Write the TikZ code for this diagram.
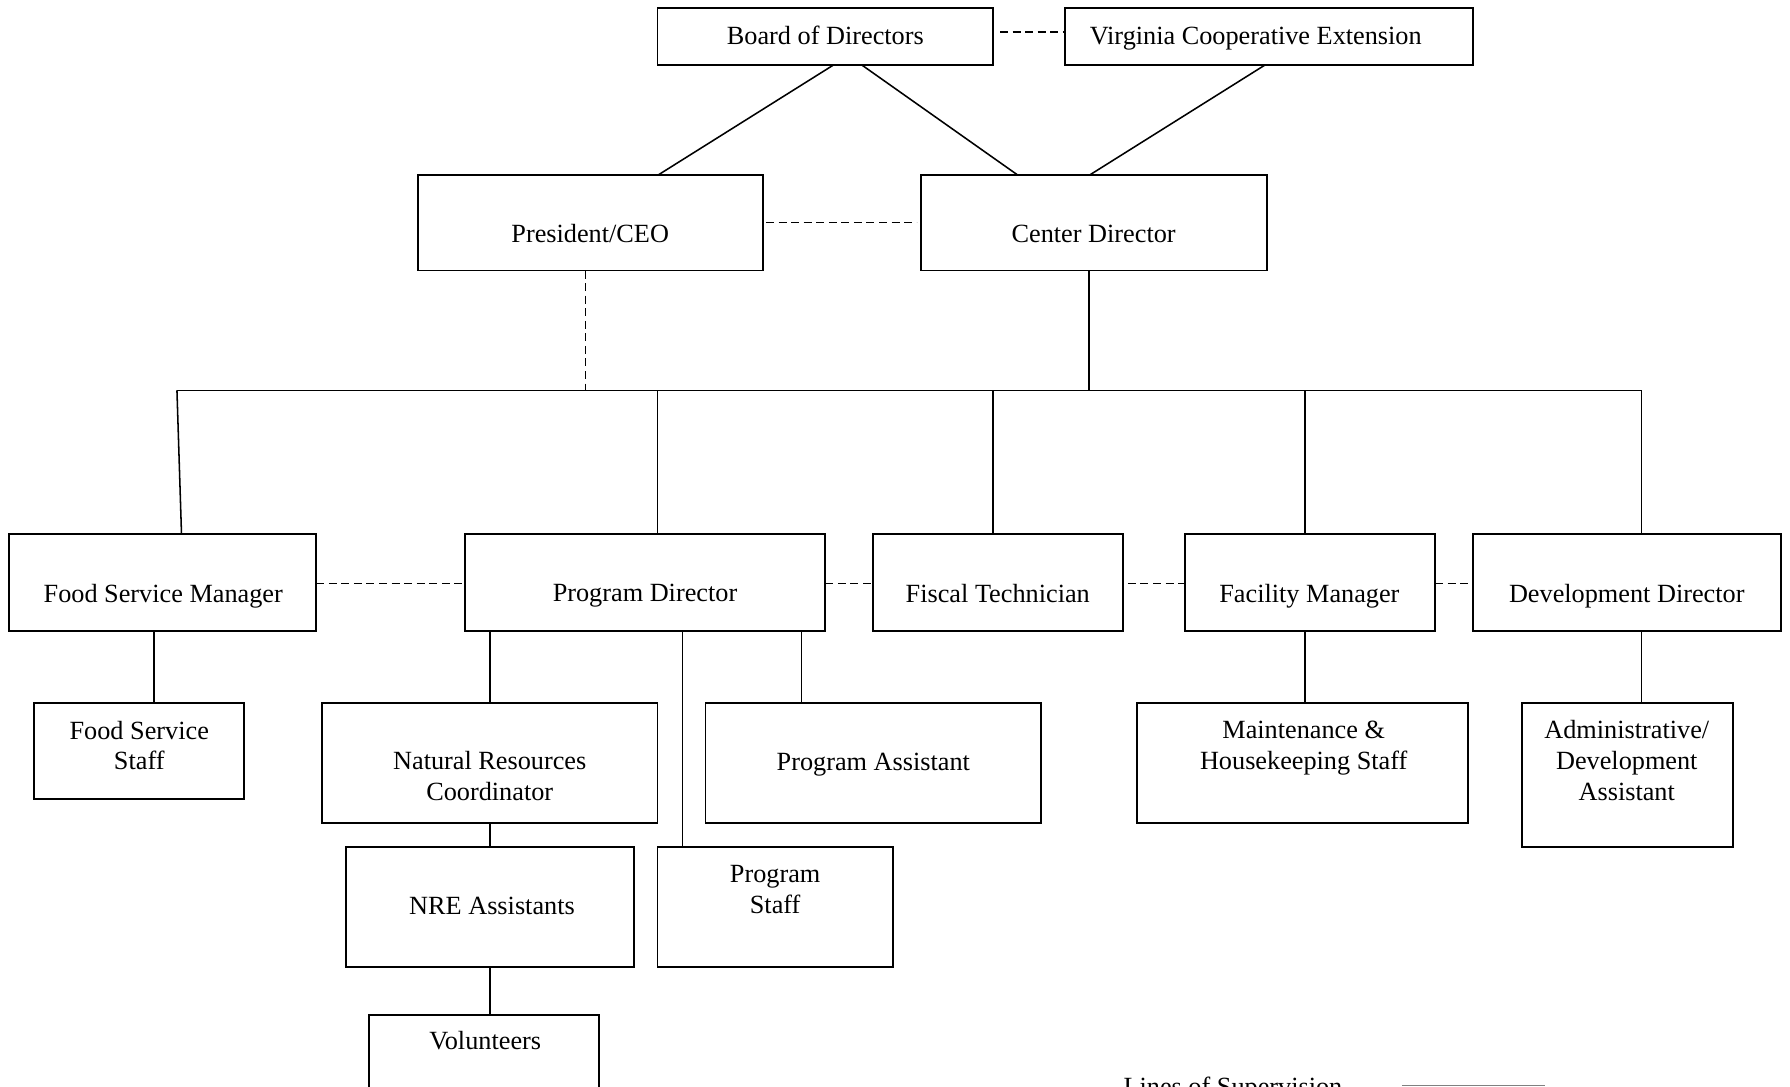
\documentclass[tikz,border=0pt]{standalone}
\usepackage{fontspec}
\setmainfont{Liberation Serif}
\begin{document}
\begin{tikzpicture}[x=1pt,y=-1pt,
  box/.style={draw, line width=1.6pt, inner sep=0pt, outer sep=0pt, anchor=north west},
  lbl/.style={font=\fontsize{23}{27}\selectfont, inner sep=0pt, align=center},
  lbl1/.style={lbl, text height=16pt, text depth=4.6pt},
  con/.style={line width=1.35pt},
  dsh/.style={line width=1.35pt, dash pattern=on 7pt off 4pt},
]
\useasboundingbox (0,0) rectangle (1568,952);
\clip (0,0) rectangle (1568,952);
\fill[white] (0,0) rectangle (1568,952);
% boxes
\node[box, minimum width=294pt, minimum height=50pt] (board) at (576,7) {};
\node[box, minimum width=357pt, minimum height=50pt] (vce) at (933,7) {};
\node[box, minimum width=302pt, minimum height=84pt] (pres) at (366,153) {};
\node[box, minimum width=303pt, minimum height=84pt] (cdir) at (807,153) {};
\node[box, minimum width=269pt, minimum height=85pt] (fsm) at (8,468) {};
\node[box, minimum width=316pt, minimum height=85pt] (pdir) at (407,468) {};
\node[box, minimum width=219pt, minimum height=85pt] (fisc) at (765,468) {};
\node[box, minimum width=219pt, minimum height=85pt] (fac) at (1038,468) {};
\node[box, minimum width=270pt, minimum height=85pt] (dev) at (1290,468) {};
\node[box, minimum width=184pt, minimum height=84pt] (fss) at (30,616) {};
\node[box, minimum width=294pt, minimum height=105pt] (nrc) at (282,616) {};
\node[box, minimum width=294pt, minimum height=105pt] (pa) at (618,616) {};
\node[box, minimum width=206pt, minimum height=105pt] (pst) at (576,742) {};
\node[box, minimum width=252pt, minimum height=105pt] (nre) at (303,742) {};
\node[box, minimum width=202pt, minimum height=95pt] (vol) at (323,889) {};
\node[box, minimum width=290pt, minimum height=105pt] (mhs) at (996,616) {};
\node[box, minimum width=185pt, minimum height=126pt] (ada) at (1333,616) {};
% texts
\node[lbl1] (tboard) at (723,33) {Board of Directors};
\node[lbl1] (tvce) at (1100,33) {Virginia Cooperative Extension};
\node[lbl1] (tpres) at (517,206.5) {President/CEO};
\node[lbl1] (tcdir) at (958,206.5) {Center Director};
\node[lbl1] (tfsm) at (143,522) {Food Service Manager};
\node[lbl1] (tpdir) at (565,521.5) {Program Director};
\node[lbl1] (tfisc) at (874,522) {Fiscal Technician};
\node[lbl1] (tfac) at (1147,522) {Facility Manager};
\node[lbl1] (tdev) at (1425,522) {Development Director};
\node[lbl] (tfss) at (122,653) {Food Service\\Staff};
\node[lbl] (tnrc) at (429,679.5) {Natural Resources\\Coordinator};
\node[lbl1] (tpa) at (765,669) {Program Assistant};
\node[lbl] (tmhs) at (1142,655) {Maintenance \&\\Housekeeping Staff};
\node[lbl] (tada) at (1425,666) {Administrative/\\Development\\Assistant};
\node[lbl1] (tnre) at (431,795) {NRE Assistants};
\node[lbl] (tpst) at (679,779) {Program\\Staff};
\node[lbl1] (tvol) at (425,914) {Volunteers};
\node[lbl, anchor=base west] (tleg) at (984,959.6) {Lines of Supervision};
% bar coordinates
\coordinate (bFsm) at (155,342);
\coordinate (bPres) at (513,342);
\coordinate (bPd) at (576,342);
\coordinate (bFi) at (870,342);
\coordinate (bC) at (954,342);
\coordinate (bFa) at (1143,342);
\coordinate (bDev) at (1438,342);
\coordinate (lg1) at (1228,951);
\coordinate (lg2) at (1353,951);
% top connectors
\draw[con] ([xshift=154pt]board.south west) -- ([xshift=211pt]pres.north west);
\draw[con] ([xshift=179pt]board.south west) -- ([xshift=84pt]cdir.north west);
\draw[con] ([xshift=175pt]vce.south west) -- ([xshift=148pt]cdir.north west);
\draw[dsh] ([yshift=4pt,xshift=6pt]board.east) -- ([yshift=4pt]vce.west);
\draw[dsh] ([xshift=3pt]pres.east) -- ([xshift=-4pt]cdir.west);
\draw[dsh] (pres.south -| bPres) -- (bPres);
\draw[con] (cdir.south -| bC) -- (bC);
\draw[con] (bFsm) -- (bDev);
\draw[con] (bFsm) -- ([xshift=151pt]fsm.north west);
\draw[con] (bPd) -- (pdir.north -| bPd);
\draw[con] (bFi) -- (fisc.north -| bFi);
\draw[con] (bFa) -- (fac.north -| bFa);
\draw[con] (bDev) -- (dev.north -| bDev);
% row dashes
\draw[dsh] ([yshift=-0.5pt]fsm.east) -- ([yshift=-0.5pt]pdir.west);
\draw[dsh] ([yshift=-0.5pt]pdir.east) -- ([yshift=-0.5pt]fisc.west);
\draw[dsh] ([yshift=-0.5pt,xshift=4pt]fisc.east) -- ([yshift=-0.5pt]fac.west);
\draw[dsh] ([yshift=-0.5pt]fac.east) -- ([yshift=-0.5pt]dev.west);
% children
\draw[con] ([xshift=127pt]fsm.south west) -- ([xshift=105pt]fss.north west);
\draw[con] ([xshift=22pt]pdir.south west) -- ([xshift=147pt]nrc.north west);
\draw[con] ([xshift=191pt]pdir.south west) -- ([xshift=22pt]pst.north west);
\draw[con] ([xshift=295pt]pdir.south west) -- ([xshift=84pt]pa.north west);
\draw[con] ([xshift=147pt]nrc.south west) -- ([xshift=126pt]nre.north west);
\draw[con] ([xshift=126pt]nre.south west) -- ([xshift=106pt]vol.north west);
\draw[con] ([xshift=105pt]fac.south west) -- ([xshift=147pt]mhs.north west);
\draw[con] ([xshift=148pt]dev.south west) -- ([xshift=105pt]ada.north west);
% legend line
\draw[gray, line width=1.4pt] (lg1) -- (lg2);
\end{tikzpicture}
\end{document}
